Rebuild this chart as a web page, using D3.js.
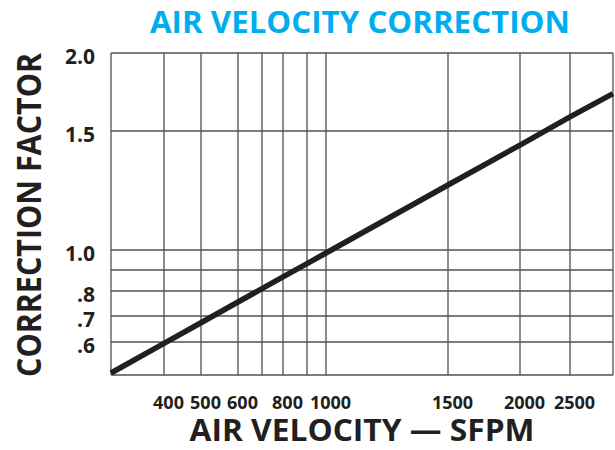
<!DOCTYPE html>
<html>
<head>
<meta charset="utf-8">
<script src="https://cdn.jsdelivr.net/npm/d3@7"></script>
<style>
  html, body { margin: 0; padding: 0; background: #fff; }
  svg { display: block; }
  text { font-family: "Open Sans", "Noto Sans", sans-serif; font-weight: 700; }
</style>
</head>
<body>
<svg id="chart" width="615" height="450"></svg>
<script>
// ---------- data ----------
const titleText = "AIR VELOCITY CORRECTION";
const xAxisTitle = "AIR VELOCITY \u2014 SFPM";
const yAxisTitle = "CORRECTION FACTOR";

// velocity grid (SFPM); first and last are the plot edges
const xGridValues = [300, 400, 500, 600, 700, 800, 900, 1000, 1500, 2000, 2500, 3000];
const xTickValues = [400, 500, 600, 800, 1000, 1500, 2000, 2500];
const xTickLabels = ["400", "500", "600", "800", "1000", "1500", "2000", "2500"];

// correction factor grid; first is the bottom edge
const yGridValues = [0.5, 0.6, 0.7, 0.8, 0.9, 1.0, 1.5, 2.0];
const yTickValues = [0.6, 0.7, 0.8, 1.0, 1.5, 2.0];
const yTickLabels = [".6", ".7", ".8", "1.0", "1.5", "2.0"];

// correction curve
const velocity = [300, 400, 500, 600, 700, 800, 900, 1000, 1500, 2000, 2500, 3000];
const factor   = [0.506, 0.596, 0.674, 0.756, 0.811, 0.867, 0.932, 0.985, 1.273, 1.441, 1.59, 1.74];

// ---------- layout ----------
const plot = { left: 111, right: 613, top: 53, bottom: 375 };
// the printed chart uses an irregular ruling; stops of the piecewise scales
const xStops = [111, 164, 201, 238, 262, 283, 307, 326, 448, 520, 570, 613];
const yStops = [375, 342, 316, 291, 270, 250, 131, 53];

const svg = d3.select("#chart");

const x = d3.scaleLinear().domain(xGridValues).range(xStops).clamp(true);
const y = d3.scaleLinear().domain(yGridValues).range(yStops).clamp(true);

const gridColor = "#505050";
const ink = "#231f20";

// grid lines
const grid = svg.append("g");
grid.selectAll("line.v")
  .data(xGridValues)
  .join("line")
  .attr("class", "v")
  .attr("x1", d => x(d)).attr("x2", d => x(d))
  .attr("y1", plot.top).attr("y2", plot.bottom)
  .attr("stroke", gridColor).attr("stroke-width", 1.3);
grid.selectAll("line.h")
  .data(yGridValues)
  .join("line")
  .attr("class", "h")
  .attr("x1", plot.left).attr("x2", plot.right)
  .attr("y1", d => y(d)).attr("y2", d => y(d))
  .attr("stroke", gridColor).attr("stroke-width", 1.3);

// x-axis tick labels
const xAxis = d3.axisBottom(x)
  .tickValues(xTickValues)
  .tickFormat((d, i) => xTickLabels[i])
  .tickSize(0)
  .tickPadding(0);
const gx = svg.append("g")
  .attr("transform", `translate(0,${plot.bottom})`)
  .call(xAxis);
gx.select(".domain").remove();
gx.selectAll("text")
  .attr("dy", null)
  .attr("y", 34)
  .attr("dx", 4)
  .attr("fill", ink)
  .style("font-size", "18px")
  .style("font-family", "'Open Sans', 'Noto Sans', sans-serif")
  .style("font-weight", 700);

// y-axis tick labels
const yAxis = d3.axisLeft(y)
  .tickValues(yTickValues)
  .tickFormat((d, i) => yTickLabels[i])
  .tickSize(0)
  .tickPadding(0);
const gy = svg.append("g")
  .attr("transform", `translate(${plot.left},0)`)
  .call(yAxis);
gy.select(".domain").remove();
gy.selectAll("text")
  .attr("x", -16)
  .attr("dy", "0.5em")
  .attr("fill", ink)
  .style("font-size", "21px")
  .style("font-family", "'Open Sans', 'Noto Sans', sans-serif")
  .style("font-weight", 700);

// correction line
const line = d3.line()
  .x((d, i) => x(velocity[i]))
  .y((d, i) => y(factor[i]));

svg.append("path")
  .datum(velocity)
  .attr("d", line)
  .attr("fill", "none")
  .attr("stroke", ink)
  .attr("stroke-width", 5.5)
  .attr("stroke-linejoin", "round");

// titles
svg.append("text")
  .attr("x", 360).attr("y", 33)
  .attr("text-anchor", "middle")
  .attr("fill", "#00aeef")
  .attr("textLength", 420)
  .attr("lengthAdjust", "spacingAndGlyphs")
  .style("font-size", "30px")
  .text(titleText);

svg.append("text")
  .attr("x", 362).attr("y", 441)
  .attr("text-anchor", "middle")
  .attr("fill", ink)
  .attr("textLength", 345)
  .attr("lengthAdjust", "spacingAndGlyphs")
  .style("font-size", "30px")
  .text(xAxisTitle);

svg.append("text")
  .attr("transform", "translate(41,215) rotate(-90)")
  .attr("text-anchor", "middle")
  .attr("fill", ink)
  .attr("textLength", 324)
  .attr("lengthAdjust", "spacingAndGlyphs")
  .style("font-size", "34px")
  .text(yAxisTitle);
</script>
</body>
</html>
